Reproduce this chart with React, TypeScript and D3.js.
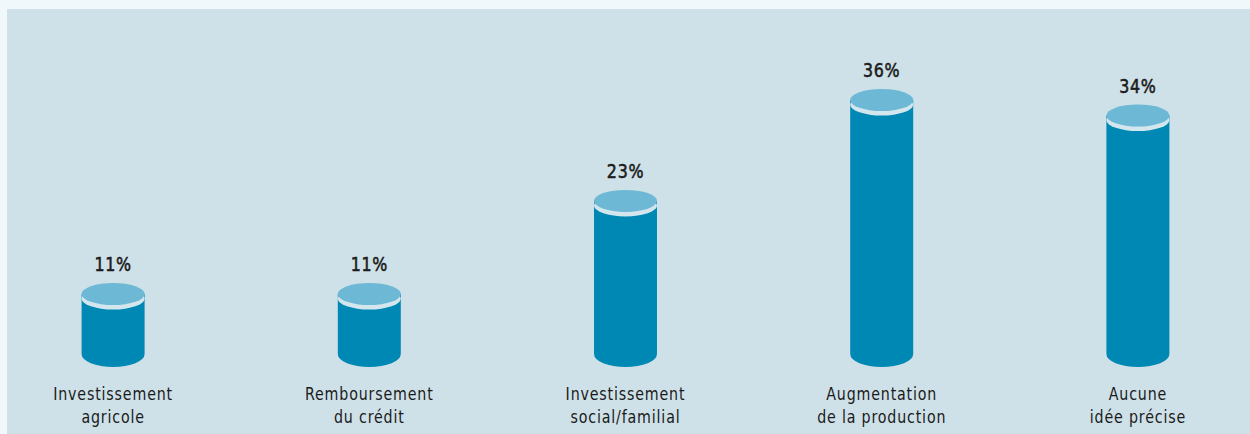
import React from "react";
import * as d3 from "d3";

const categories: string[][] = [
  ["Investissement", "agricole"],
  ["Remboursement", "du crédit"],
  ["Investissement", "social/familial"],
  ["Augmentation", "de la production"],
  ["Aucune", "idée précise"],
];
const values: number[] = [11, 11, 23, 36, 34];
const valueLabels: string[] = ["11%", "11%", "23%", "36%", "34%"];

const W = 1250;
const H = 434;
const FONT = "'DejaVu Sans Condensed', 'DejaVu Sans', sans-serif";

export default function App() {
  const x = d3
    .scaleBand<number>()
    .domain(d3.range(categories.length))
    .range([-15, 1266])
    .paddingInner(0)
    .paddingOuter(0);
  const y = d3.scaleLinear().domain([11, 36]).range([294, 100]);
  const baseY = 354;
  const rx = 31.5;
  const ryTop = 11;
  const ryBot = 13;

  return (
    <svg
      width={W}
      height={H}
      style={{ position: "absolute", left: 0, top: 0, display: "block" }}
    >
      <rect x={0} y={0} width={W} height={H} fill="#f1f8fb" />
      <rect x={7} y={9} width={W - 7} height={H - 9} fill="#cee1e8" />
      {values.map((v, i) => {
        const cx = (x(i) as number) + x.bandwidth() / 2;
        const yt = y(v);
        const body = `M${cx - rx},${yt} L${cx - rx},${baseY} A${rx},${ryBot} 0 0 0 ${cx + rx},${baseY} L${cx + rx},${yt} Z`;
        return (
          <g key={i}>
            <path d={body} fill="#0088b4" />
            <ellipse cx={cx} cy={yt + 4.5} rx={rx} ry={ryTop} fill="#d3e6ee" />
            <ellipse cx={cx} cy={yt} rx={rx} ry={ryTop} fill="#6db8d5" />
            <text
              transform={`translate(${cx},${yt - 23}) scale(0.88,1)`}
              textAnchor="middle"
              fontFamily={FONT}
              fontSize={20}
              fontWeight={400}
              letterSpacing={0.8}
              fill="#1c1c1c"
              stroke="#1c1c1c"
              strokeWidth={0.55}
            >
              {valueLabels[i]}
            </text>
            {categories[i].map((line, j) => (
              <text
                key={j}
                transform={`translate(${cx},${400 + j * 23}) scale(0.93,1)`}
                textAnchor="middle"
                fontFamily={FONT}
                fontSize={17}
                letterSpacing={0.9}
                fill="#1a1a1a"
              >
                {line}
              </text>
            ))}
          </g>
        );
      })}
    </svg>
  );
}
